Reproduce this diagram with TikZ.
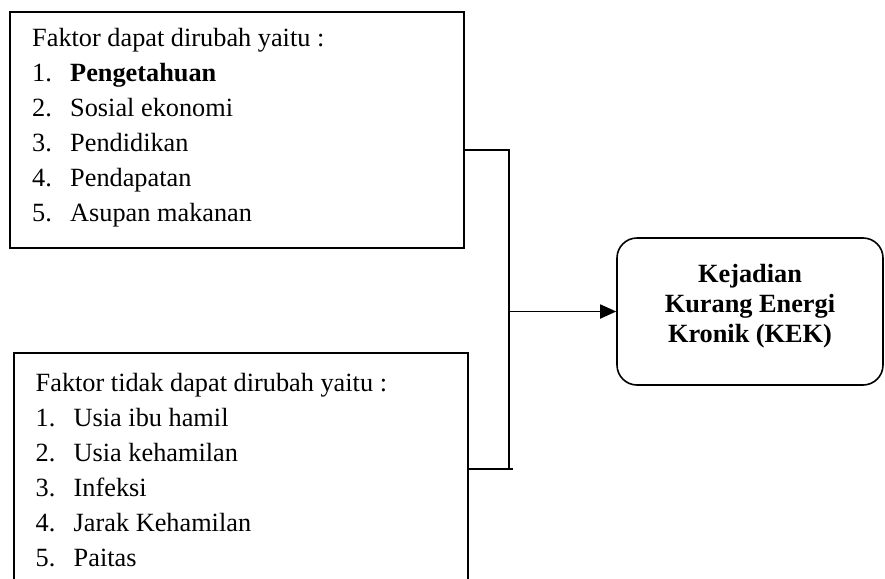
\documentclass[tikz,border=0pt]{standalone}
\usepackage{fontspec}
\setmainfont{Liberation Serif}
\usetikzlibrary{arrows.meta}
\begin{document}
\begin{tikzpicture}[x=1pt,y=-1pt,
  box/.style={draw=black,line width=1.6pt,inner sep=0pt},
  txt/.style={anchor=base west,inner sep=0pt,font=\fontsize{26.3}{30}\selectfont},
  ktxt/.style={anchor=base,inner sep=0pt,font=\fontsize{26.3}{30}\selectfont\bfseries},
  conn/.style={draw=black,line width=1.8pt},
  arr/.style={conn,-{Triangle[length=16pt,width=14pt]}}]
\useasboundingbox (0,0) rectangle (885,578);
% boxes
\node[box,minimum width=454pt,minimum height=236pt] (top) at (237,130) {};
\node[box,minimum width=454pt,minimum height=260pt] (bot) at (241,483) {};
\node[box,rounded corners=20pt,minimum width=266pt,minimum height=147pt] (kek) at (750,311.5) {};
% top text
\node[txt] (t0) at (32,46.7) {Faktor dapat dirubah yaitu :};
\node[txt] (t1n) at (32,81.7) {1.};
\node[txt] (t1) at (70,81.7) {\bfseries Pengetahuan};
\node[txt] (t2n) at (32,116.7) {2.};
\node[txt] (t2) at (70,116.7) {Sosial ekonomi};
\node[txt] (t3n) at (32,151.7) {3.};
\node[txt] (t3) at (70,151.7) {Pendidikan};
\node[txt] (t4n) at (32,186.7) {4.};
\node[txt] (t4) at (70,186.7) {Pendapatan};
\node[txt] (t5n) at (32,221.7) {5.};
\node[txt] (t5) at (70,221.7) {Asupan makanan};
% bottom text
\node[txt] (b0) at (35.5,391.5) {Faktor tidak dapat dirubah yaitu :};
\node[txt] (b1n) at (35.5,426) {1.};
\node[txt] (b1) at (73.5,426) {Usia ibu hamil};
\node[txt] (b2n) at (35.5,461) {2.};
\node[txt] (b2) at (73.5,461) {Usia kehamilan};
\node[txt] (b3n) at (35.5,496) {3.};
\node[txt] (b3) at (73.5,496) {Infeksi};
\node[txt] (b4n) at (35.5,531) {4.};
\node[txt] (b4) at (73.5,531) {Jarak Kehamilan};
\node[txt] (b5n) at (35.5,566) {5.};
\node[txt] (b5) at (73.5,566) {Paitas};
% KEK text
\node[ktxt] (k1) at (750,282) {Kejadian};
\node[ktxt] (k2) at (750,312) {Kurang Energi};
\node[ktxt] (k3) at (750,342) {Kronik (KEK)};
% connectors
\coordinate (j1) at (509,150);
\coordinate (j2) at (509,469);
\coordinate (j3) at (513,469);
\draw[conn] (top.east |- j1) -- (j1) -- (j2);
\draw[conn] (bot.east |- j3) -- (j3);
\draw[arr] (j1 |- kek.west) -- (kek.west);
\end{tikzpicture}
\end{document}
